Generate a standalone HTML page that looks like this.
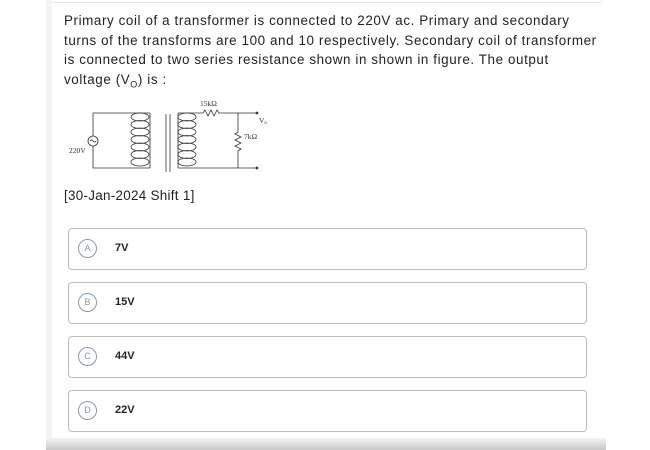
<!DOCTYPE html>
<html><head><meta charset="utf-8"><style>
body{margin:0;width:650px;height:450px;background:#fff;position:relative;overflow:hidden;font-family:"Liberation Sans",sans-serif;}
.strip{position:absolute;left:46px;top:0;width:6px;height:440px;background:#f1f3f5}
.card{position:absolute;left:52px;top:2px;width:550px;height:436px;border-top:1px solid #e3e6ea;background:#fff}
.shadow{position:absolute;left:46px;top:438px;width:560px;height:12px;background:linear-gradient(#f3f3f3,#c9c9c9)}
.q{position:absolute;left:64px;top:11px;width:560px;font-size:13.4px;line-height:19.6px;color:#222;letter-spacing:0.6px;white-space:nowrap}
.tag{position:absolute;left:64px;top:188px;font-size:13.4px;color:#222;letter-spacing:0.3px}
.opt{position:absolute;left:68px;width:519px;height:42px;border:1px solid #b5bec6;border-radius:4px;box-sizing:border-box}
.opt .c{position:absolute;left:9px;top:10px;width:19px;height:19px;border:1px solid #8a9aa8;border-radius:50%;box-sizing:border-box;font-size:9px;color:#8a9aa8;text-align:center;line-height:17px}
.opt .t{position:absolute;left:46px;top:13px;font-size:11px;font-weight:bold;color:#222}
</style></head><body>
<div class="strip"></div><div class="card"></div><div class="shadow"></div>
<div class="q">Primary coil of a transformer is connected to 220V ac. Primary and secondary<br>turns of the transforms are 100 and 10 respectively. Secondary coil of transformer<br>is connected to two series resistance shown in shown in figure. The output<br>voltage (V<sub style="font-size:9px;line-height:0">O</sub>) is :</div>
<svg style="position:absolute;left:0;top:0" width="650" height="230" fill="none" stroke="#333" stroke-width="0.8">
<path d="M150 113H93V136M93 146V168H150"/>
<circle cx="93" cy="141" r="5"/><path d="M90 141q1.5-2 3 0t3 0"/>
<g id="cp"><ellipse cx="140" cy="117" rx="9" ry="4"/><ellipse cx="140" cy="124.5" rx="9" ry="4"/><ellipse cx="140" cy="132" rx="9" ry="4"/><ellipse cx="140" cy="139.5" rx="9" ry="4"/><ellipse cx="140" cy="147" rx="9" ry="4"/><ellipse cx="140" cy="154.5" rx="9" ry="4"/><ellipse cx="140" cy="162" rx="9" ry="4"/></g>
<path d="M150 113V168"/>
<path d="M166 114V172M170 114V172"/>
<use href="#cp" x="47"/>
<path d="M178 113V168M178 113H203l2-3 3 6 3-6 3 6 3-6 2 3H257M178 168H257"/>
<path d="M238 113V132l-3 2 6 3-6 3 6 3-6 3 6 3-3 2V168"/>
<circle cx="257" cy="113" r="1" fill="#333"/><circle cx="257" cy="168" r="1" fill="#333"/>
<g font-family="Liberation Serif" font-size="7.5" fill="#333" stroke="none">
<text x="200" y="106">15kΩ</text><text x="259" y="123">V<tspan font-size="5" dy="1">o</tspan></text><text x="244" y="139">7kΩ</text><text x="69" y="153">220V</text></g>
</svg>
<div class="tag">[30-Jan-2024 Shift 1]</div>
<div class="opt" style="top:228px"><div class="c">A</div><div class="t">7V</div></div>
<div class="opt" style="top:282px"><div class="c">B</div><div class="t">15V</div></div>
<div class="opt" style="top:336px"><div class="c">C</div><div class="t">44V</div></div>
<div class="opt" style="top:390px"><div class="c">D</div><div class="t">22V</div></div>
</body></html>
